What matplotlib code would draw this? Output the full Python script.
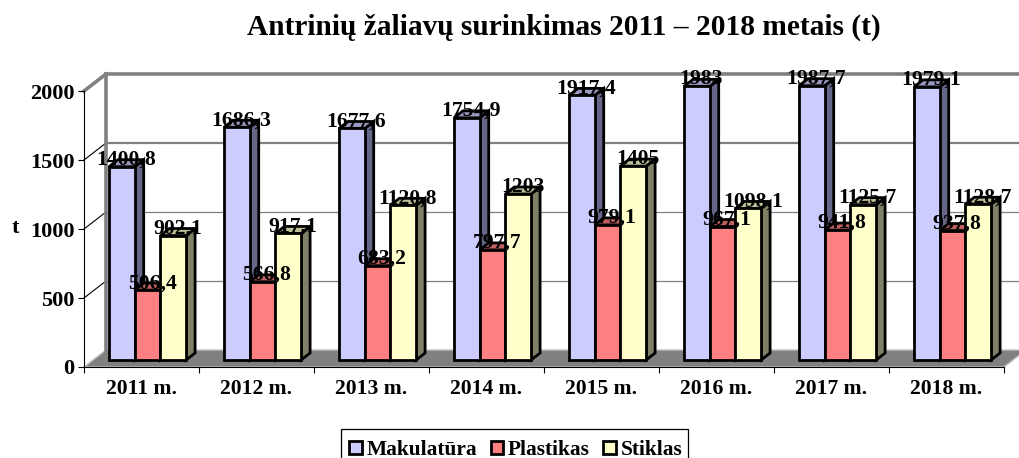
import numpy as np
import matplotlib
matplotlib.use("Agg")
import matplotlib.pyplot as plt
from matplotlib.patches import Polygon, Patch, Rectangle

years = ["2011 m.", "2012 m.", "2013 m.", "2014 m.", "2015 m.", "2016 m.", "2017 m.", "2018 m."]
makulatura = [1400.8, 1686.3, 1677.6, 1754.9, 1917.4, 1983, 1987.7, 1979.1]
plastikas = [506.4, 566.8, 683.2, 797.7, 979.1, 967.1, 941.8, 937.8]
stiklas = [902.1, 917.1, 1120.8, 1203, 1405, 1098.1, 1125.7, 1128.7]
series_names = ["Makulatūra", "Plastikas", "Stiklas"]
y_ticks = [0, 500, 1000, 1500, 2000]

front_colors = ["#CCCCFF", "#FF8080", "#FFFFCC"]
side_colors = ["#666688", "#804040", "#808066"]
top_colors = ["#9999C0", "#C06060", "#C0C099"]

W, H = 1019, 458
plt.rcParams["font.family"] = ["Liberation Serif", "DejaVu Serif"]
plt.rcParams["font.weight"] = "bold"

fig = plt.figure(figsize=(W / 100, H / 100), dpi=100)
ax = fig.add_axes([84 / W, 1 - 367 / H, 920 / W, 276 / H])
ax.set_xlim(0, 8)
ax.set_ylim(0, 2000)

# pixel sizes of the fake 3d, turned into data units
px_x = 8 / 920
px_y = 2000 / 276
wall_dx, wall_dy = 22 * px_x, 17 * px_y
depth_dx, depth_dy = 9 * px_x, 7 * px_y
bar_w = 25.7 * px_x
bar_start = 25 * px_x
base = 7 * px_y
edge_lw = 2.0

# walls and floor
ax.add_patch(Polygon([(0, 0), (wall_dx, wall_dy), (8 + wall_dx, wall_dy), (8, 0)],
                     facecolor="#808080", edgecolor="#C0C0C0", lw=1.0, clip_on=False, zorder=1))
grid_lw = {500: 0.9, 1000: 0.9, 1500: 1.6, 2000: 2.6}
for t in y_ticks:
    if t == 0:
        continue
    ax.plot([wall_dx, 8 + wall_dx], [t + wall_dy] * 2, color="#808080", lw=grid_lw[t],
            clip_on=False, zorder=1)
    ax.plot([0, wall_dx], [t, t + wall_dy], color="#808080" if t == 2000 else "black",
            lw=2.6 if t == 2000 else 0.8, clip_on=False, zorder=1)
ax.plot([wall_dx, wall_dx], [wall_dy, 2000 + wall_dy], color="#808080", lw=2.6, clip_on=False, zorder=1)

# bars
all_series = [makulatura, plastikas, stiklas]
z = 3
for i in range(len(years)):
    for s, vals in enumerate(all_series):
        x0 = i + bar_start + s * bar_w
        v = vals[i] + base
        x1 = x0 + bar_w
        ax.add_patch(Polygon([(x1, base), (x1 + depth_dx, base + depth_dy), (x1 + depth_dx, v + depth_dy), (x1, v)],
                             facecolor=side_colors[s], edgecolor="black", lw=edge_lw, clip_on=False, zorder=z))
        ax.add_patch(Polygon([(x0, v), (x0 + depth_dx, v + depth_dy), (x1 + depth_dx, v + depth_dy), (x1, v)],
                             facecolor=top_colors[s], edgecolor="black", lw=edge_lw, clip_on=False, zorder=z))
        ax.bar(x0, vals[i], width=bar_w, bottom=base, align="edge", color=front_colors[s],
               edgecolor="black", lw=edge_lw, clip_on=False, zorder=z)
        z += 1

# data labels go on top of everything
for i in range(len(years)):
    for s, vals in enumerate(all_series):
        xc = i + bar_start + (s + 0.5) * bar_w + depth_dx / 2
        label = f"{vals[i]:g}".replace(".", ",")
        ax.text(xc, vals[i] + base + depth_dy, label, ha="center", va="center", fontsize=15.6,
                color="black", clip_on=False, zorder=100)

for side in ["top", "right"]:
    ax.spines[side].set_visible(False)
ax.spines["left"].set_zorder(2)
ax.spines["bottom"].set_zorder(2)

ax.set_yticks(y_ticks)
ax.set_xticks(np.arange(9))
ax.set_xticklabels([])
ax.set_xticks(np.arange(8) + 0.5, labels=years, minor=True)
ax.tick_params(axis="x", which="minor", length=0, pad=9, labelsize=15.6)
ax.tick_params(axis="x", which="major", length=4, width=0.8)
ax.tick_params(axis="y", length=4, width=0.8, pad=3, labelsize=16)
ax.patch.set_visible(False)

fig.text(15 / W, 1 - 228 / H, "t", ha="center", va="center", fontsize=16)
fig.text(563.5 / W, 1 - 27.5 / H, "Antrinių žaliavų surinkimas 2011 – 2018 metais (t)",
         ha="center", va="center", fontsize=21.2)

# legend box runs off the bottom of the picture
fig.add_artist(Rectangle((341 / W, -0.05), 347 / W, 0.05 + (458 - 429) / H, transform=fig.transFigure,
                         facecolor="white", edgecolor="black", lw=0.9))
handles = [Patch(facecolor=c, edgecolor="black", lw=edge_lw) for c in front_colors]
fig.legend(handles, series_names, loc="lower left", bbox_to_anchor=(347 / W, -4 / H),
           bbox_transform=fig.transFigure, ncol=3, fontsize=15.4, frameon=False,
           borderaxespad=0, borderpad=0.1, handlelength=0.6, handleheight=0.6,
           handletextpad=0.2, columnspacing=0.64)

fig.savefig("out.png", dpi=100)
